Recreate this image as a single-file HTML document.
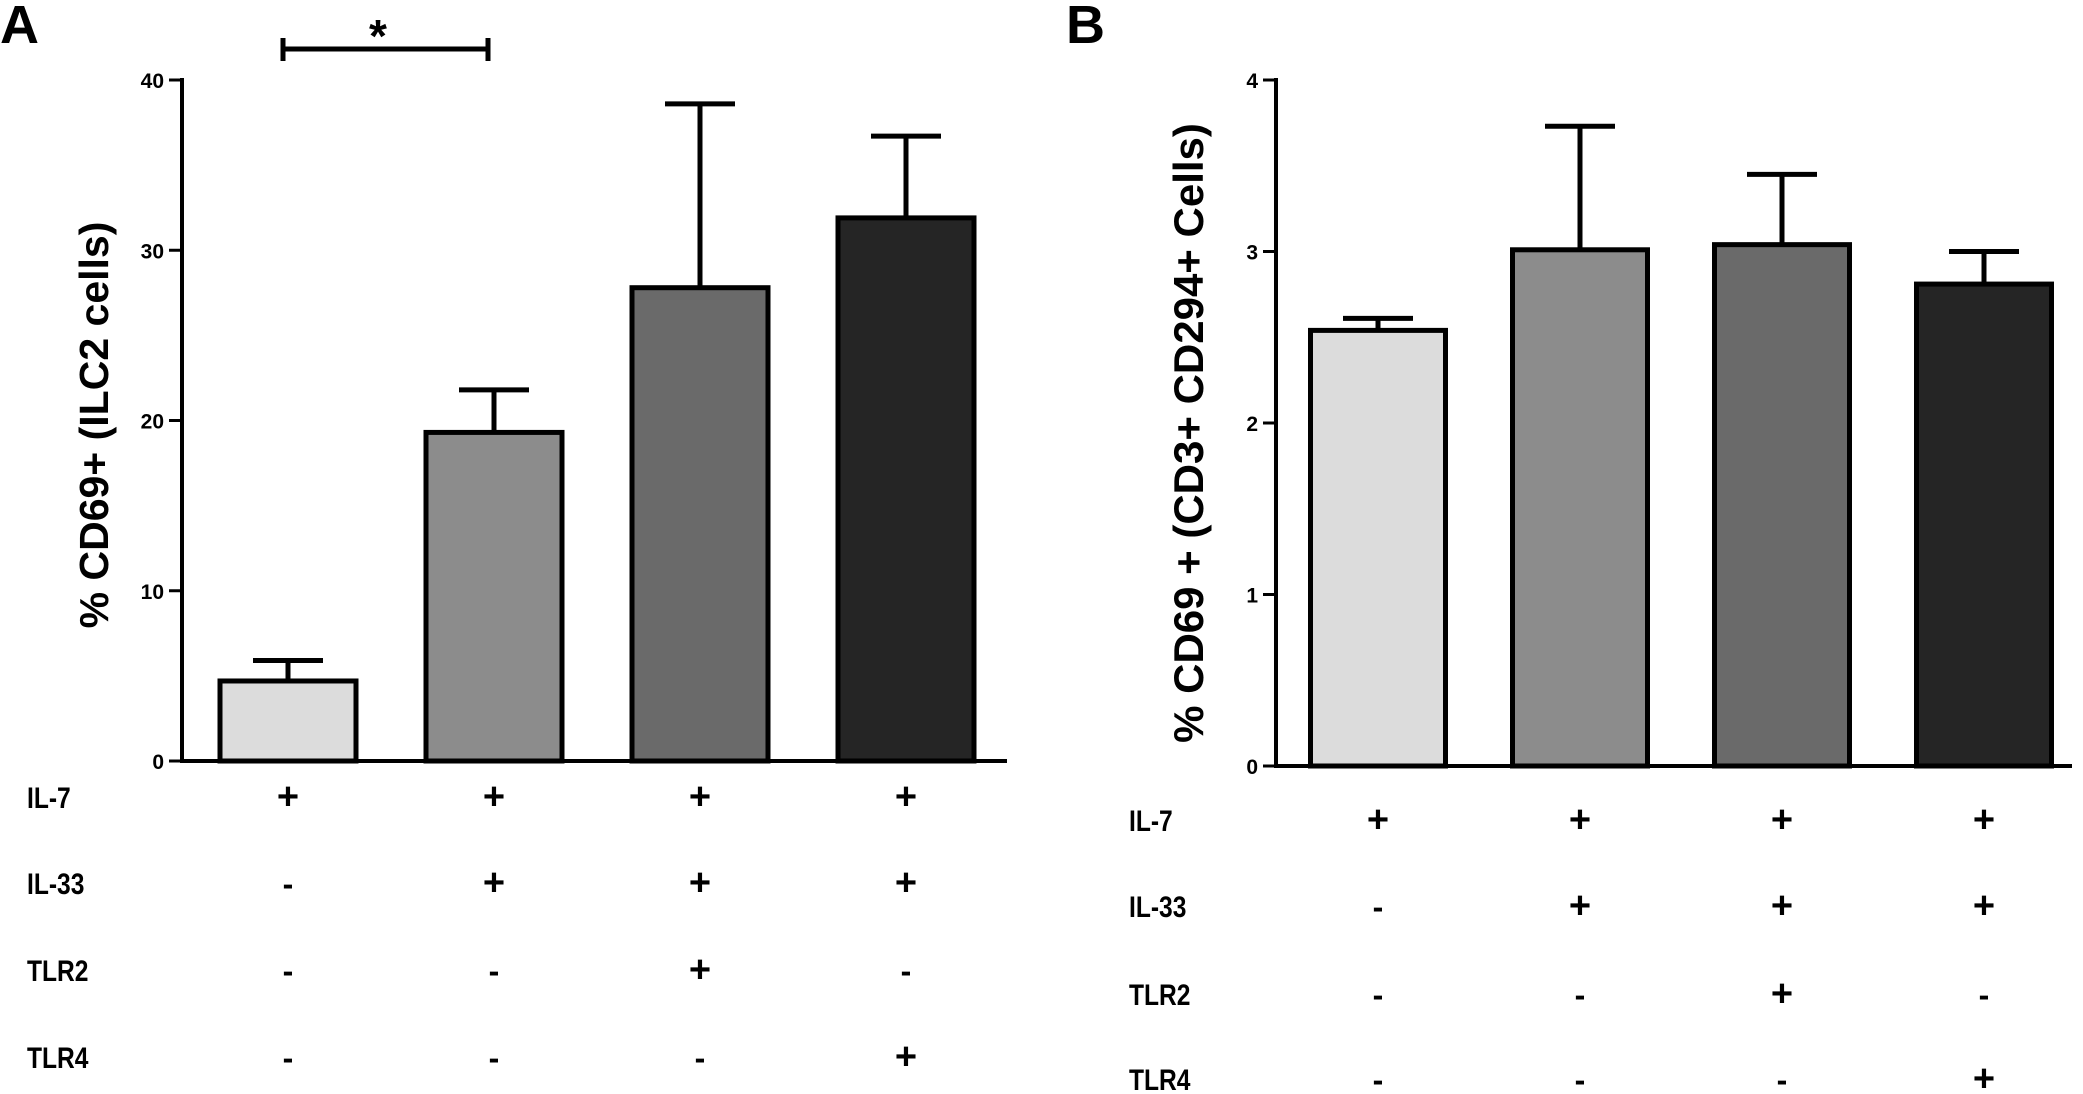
<!DOCTYPE html>
<html><head><meta charset="utf-8"><style>
body{margin:0;background:#fff;}
svg{display:block;font-family:"Liberation Sans",Arial,sans-serif;font-weight:bold;}
</style></head><body>
<svg id="fig" width="2083" height="1094" viewBox="0 0 2083 1094">
<text x="0" y="43" font-size="54">A</text>
<text x="1066" y="43" font-size="54">B</text>
<g id="pa"></g>
<g id="pb"></g>
</svg>
<script>
const conditions=["IL-7","IL-33","TLR2","TLR4"];
const groups=[["+","-","-","-"],["+","+","-","-"],["+","+","+","-"],["+","+","-","+"]];
const fills=["#dcdcdc","#8c8c8c","#6a6a6a","#252525"];
const aMeans=[4.7,19.3,27.8,31.9];
const aErrTop=[5.9,21.8,38.6,36.7];
const aTicks=[0,10,20,30,40];
const bMeans=[2.54,3.01,3.04,2.81];
const bErrTop=[2.61,3.73,3.45,3.00];
const bTicks=[0,1,2,3,4];
const NS="http://www.w3.org/2000/svg";
function mk(p,t,a){const e=document.createElementNS(NS,t);for(const k in a)e.setAttribute(k,a[k]);p.appendChild(e);return e;}
function panel(g,o){
  const y=v=>o.y0-(v/o.max)*(o.y0-o.y1);
  const ax=mk(g,'path',{d:`M${o.ax} ${o.y1-2}V${o.y0}H${o.axEnd}`,stroke:'#000','stroke-width':4,fill:'none'});
  
  
  o.ticks.forEach(t=>{
    const l=mk(g,'line',{x1:o.ax-13,x2:o.ax,y1:y(t),y2:y(t),stroke:'#000','stroke-width':3});
    
    
    const tx=mk(g,'text',{x:o.ax-18,y:y(t)+8,'font-size':21,'text-anchor':'end'});
    tx.textContent=t;
    
    
  });
  o.means.forEach((m,i)=>{
    const cx=o.x0+i*o.step, w=o.bw;
    const e=mk(g,'path',{d:`M${cx} ${y(m)}V${y(o.err[i])}M${cx-35} ${y(o.err[i])}H${cx+35}`,stroke:'#000','stroke-width':5,fill:'none'});
    
    
    const r=mk(g,'rect',{x:cx-w/2,y:y(m),width:w,height:o.y0-y(m),fill:fills[i],stroke:'#000','stroke-width':5});
    
    
    groups[i].forEach((s,j)=>{
      const t=mk(g,'text',{x:cx,y:o.rows[j]+12,'font-size':s=='+'?38:32,'text-anchor':'middle'});
      t.textContent=s;
      
      
    });
  });
  conditions.forEach((c,j)=>{
    const t=mk(g,'text',{x:o.lx,y:o.rows[j]+11,'font-size':30,transform:`translate(${o.lx} 0) scale(0.82 1) translate(${-o.lx} 0)`});
    t.textContent=c;
    
    
  });
  const tt=mk(g,'text',{x:0,y:0,'font-size':o.tfs,'text-anchor':'middle',transform:`translate(${o.tx} ${o.ty}) rotate(-90)`});
  tt.textContent=o.title;
  
  
}
panel(document.getElementById('pa'),{ax:182,axEnd:1007,y0:761,y1:80,max:40,ticks:aTicks,means:aMeans,err:aErrTop,x0:288,step:206,bw:136,rows:[797,883,970,1057],lx:27,tx:108,ty:425,tfs:41,title:"% CD69+  (ILC2 cells)"});
panel(document.getElementById('pb'),{ax:1276,axEnd:2072,y0:766,y1:80,max:4,ticks:bTicks,means:bMeans,err:bErrTop,x0:1378,step:202,bw:135,rows:[820,906,994,1079],lx:1129,tx:1203,ty:433,tfs:42,title:"% CD69 +  (CD3+ CD294+  Cells)"});
const pa=document.getElementById('pa');
const br=mk(pa,'path',{d:'M283 49H488M283 38V61M488 38V61',stroke:'#000','stroke-width':5,fill:'none'});


const st=mk(pa,'text',{x:378,y:52,'font-size':46,'text-anchor':'middle'});
st.textContent='*';


</script>
</body></html>
